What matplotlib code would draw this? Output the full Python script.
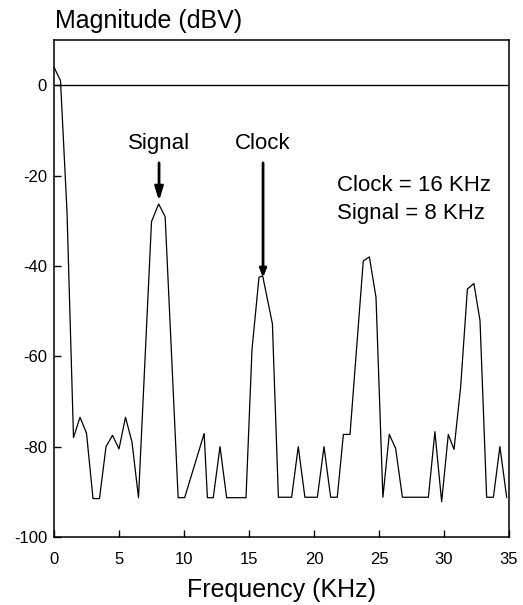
import matplotlib
matplotlib.use('Agg')
from matplotlib import pyplot as plt

plt.rcParams['font.family'] = ['Liberation Sans', 'DejaVu Sans']
plt.rcParams['axes.unicode_minus'] = False

# spectrum points (frequency in KHz, magnitude in dBV)
freq = [0, 0.5, 1.0, 1.5, 2.0, 2.5, 3.0, 3.5, 4.0, 4.5, 5.0, 5.5, 6.0, 6.5,
        7.5, 8.05, 8.55, 9.55, 10.05, 11.55, 11.8, 12.25, 12.77, 13.28,
        14.77, 15.23, 15.77, 16.05, 16.8, 17.26, 18.28, 18.79, 19.3, 20.26,
        20.77, 21.28, 21.79, 22.26, 22.77, 23.79, 24.26, 24.77, 25.3, 25.79,
        26.28, 26.8, 28.8, 29.3, 29.82, 30.33, 30.77, 31.28, 31.8, 32.3,
        32.77, 33.28, 33.8, 34.3, 34.82]
mag = [4, 1, -28, -78, -73.5, -77, -91.5, -91.5, -80, -77.5, -80.5, -73.5,
       -79, -91.3, -30.2, -26.3, -29.1, -91.3, -91.3, -77.1, -91.3, -91.3,
       -80, -91.3, -91.3, -58.5, -42.5, -42.2, -52.8, -91.2, -91.2, -80,
       -91.2, -91.2, -80, -91.2, -91.2, -77.3, -77.3, -38.9, -38, -47, -91.2,
       -77.3, -80.4, -91.2, -91.2, -76.7, -92.2, -77.3, -80.6, -66.8, -45.1,
       -43.9, -52.1, -91.2, -91.2, -80, -91.2]

xticks = [0, 5, 10, 15, 20, 25, 30, 35]
yticks = [0, -20, -40, -60, -80, -100]

if __name__ == '__main__':
    fig = plt.figure(figsize=(5.23, 6.05), dpi=100)
    ax = fig.add_axes([54 / 523, 1 - 537 / 605, 455 / 523, 497 / 605])

    ax.plot(freq, mag, color='black', lw=0.9)
    ax.axhline(0, color='black', lw=1)

    ax.set_xlim(0, 35)
    ax.set_ylim(-100, 10)
    ax.set_xticks(xticks)
    ax.set_yticks(yticks)
    ax.tick_params(direction='in', length=5, width=1, labelsize=12)
    ax.tick_params(axis='x', pad=11)
    ax.tick_params(axis='y', pad=5)
    for s in ax.spines.values():
        s.set_linewidth(1.1)

    # arrows pointing at the two peaks
    arrow = dict(arrowstyle='-|>,head_length=0.8,head_width=0.25',
                 color='black', lw=2, shrinkA=0, shrinkB=0)
    ax.annotate('', xy=(8.08, -25.6), xytext=(8.08, -17.2), arrowprops=arrow)
    ax.annotate('', xy=(16.08, -42.6), xytext=(16.08, -17.2),
                arrowprops=dict(arrow, arrowstyle='-|>,head_length=0.5,head_width=0.2'))

    ax.text(8.08, -12.8, 'Signal', fontsize=16, ha='center', va='center')
    ax.text(16.08, -12.8, 'Clock', fontsize=16, ha='center', va='center')
    ax.text(21.77, -22.3, 'Clock = 16 KHz', fontsize=16, ha='left', va='center')
    ax.text(21.77, -28.3, 'Signal = 8 KHz', fontsize=16, ha='left', va='center')

    fig.text(55 / 523, 1 - 28 / 605, 'Magnitude (dBV)', fontsize=18,
             ha='left', va='baseline')
    fig.text(281.5 / 523, 1 - 597 / 605, 'Frequency (KHz)', fontsize=18,
             ha='center', va='baseline')

    fig.savefig('out.png', dpi=100)
